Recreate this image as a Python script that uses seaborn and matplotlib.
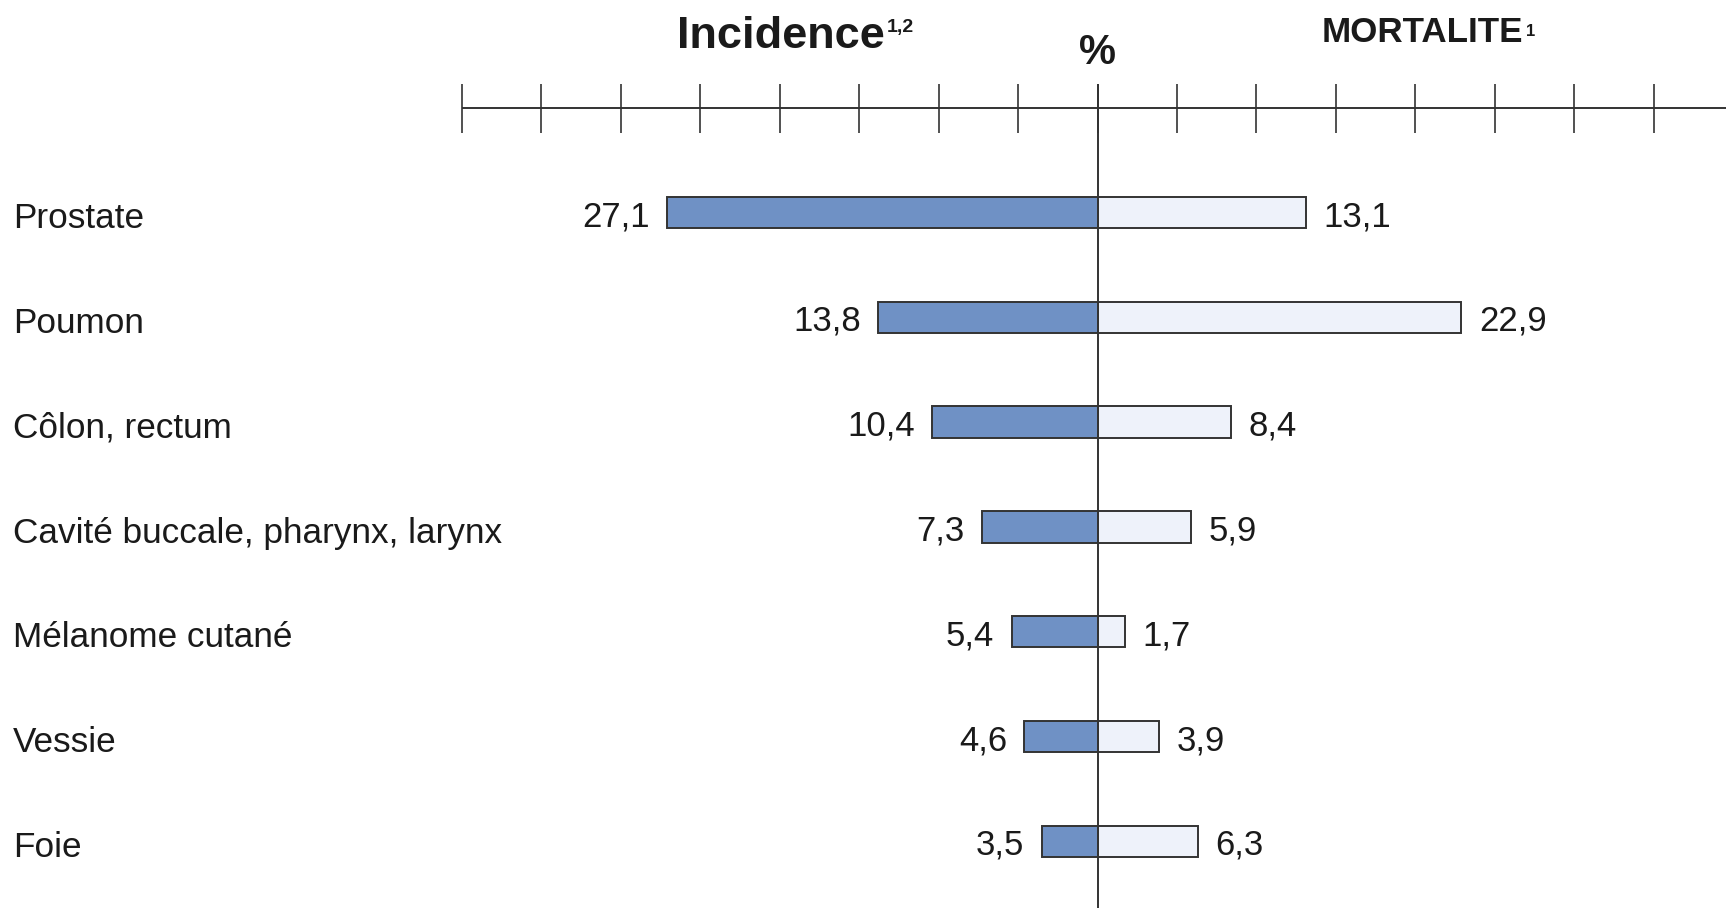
import numpy as np
import pandas as pd
import matplotlib
matplotlib.use("Agg")
import matplotlib.pyplot as plt
import matplotlib.transforms as mtransforms
import seaborn as sns

# Cancer sites, incidence share and mortality share (%)
sites = ["Prostate", "Poumon", "Côlon, rectum", "Cavité buccale, pharynx, larynx",
         "Mélanome cutané", "Vessie", "Foie"]
incidence = [27.1, 13.8, 10.4, 7.3, 5.4, 4.6, 3.5]
mortalite = [13.1, 22.9, 8.4, 5.9, 1.7, 3.9, 6.3]
scale_ticks = list(range(-40, 40, 5))

sns.set_theme(style="white")
plt.rcParams["font.family"] = ["Liberation Sans", "DejaVu Sans"]

W, H, DPI = 1726, 908, 100
fig = plt.figure(figsize=(W / DPI, H / DPI), dpi=DPI)
ax = fig.add_axes([0, 0, 1, 1])

df = pd.DataFrame({"site": sites,
                   "inc": [-v for v in incidence],
                   "mort": mortalite})

edge = "#333333"
sns.barplot(data=df, x="inc", y="site", orient="h", color="#6F91C5",
            saturation=1, width=0.3, edgecolor=edge, linewidth=1.4, ax=ax)
sns.barplot(data=df, x="mort", y="site", orient="h", color="#EEF2FA",
            saturation=1, width=0.3, edgecolor=edge, linewidth=1.4, ax=ax)

# data extent of the canvas
px_per_unit = 15.89
x0_px = 1097.5
ax.set_xlim(-x0_px / px_per_unit, (W - x0_px) / px_per_unit)
row_px, first_px = 104.8, 212.5
ax.set_ylim((H - first_px) / row_px, -first_px / row_px)

for s in ax.spines.values():
    s.set_visible(False)
ax.set_xticks([])
ax.set_yticks([])
ax.set_xlabel("")
ax.set_ylabel("")

# top scale with tick marks every 5 %
axis_y = -1.0
ax.plot([scale_ticks[0], ax.get_xlim()[1]], [axis_y, axis_y], color=edge, lw=1.4,
        solid_capstyle="butt", zorder=3)
ax.vlines(scale_ticks, axis_y - 0.226, axis_y + 0.24, color=edge, lw=1.2, zorder=3)
# central divider
ax.vlines([0], axis_y - 0.226, ax.get_ylim()[0], color=edge, lw=1.4, zorder=4)

fs_val = 25
fs_cat = 25.3
fmt = lambda v: f"{v:.1f}".replace(".", ",")
gap = 17.5 / px_per_unit
for i, (a, b) in enumerate(zip(incidence, mortalite)):
    ax.text(-a - gap, i + 0.04, fmt(a), ha="right", va="center", fontsize=fs_val, color="#1a1a1a")
    ax.text(b + gap, i + 0.04, fmt(b), ha="left", va="center", fontsize=fs_val, color="#1a1a1a")

trans = mtransforms.blended_transform_factory(fig.transFigure, ax.transData)
for i, name in enumerate(sites):
    ax.text(13 / W, i + 0.06, name, transform=trans, ha="left", va="center",
            fontsize=fs_cat, color="#1a1a1a")

# headings
def fx(px):
    return px / W

def fy(px):
    return 1 - px / H

renderer = fig.canvas.get_renderer()
t1 = fig.text(fx(677), fy(48), "Incidence", ha="left", va="baseline",
              fontsize=32.5, fontweight="bold", color="#1a1a1a")
bb = t1.get_window_extent(renderer)
fig.text(bb.x1 / W + 2 / W, fy(32), "1,2", ha="left", va="baseline",
         fontsize=14, fontweight="bold", color="#1a1a1a")

t2 = fig.text(fx(1322), fy(42), "MORTALITE", ha="left", va="baseline",
              fontsize=25.2, fontweight="bold", color="#1a1a1a")
bb = t2.get_window_extent(renderer)
fig.text(bb.x1 / W + 2 / W, fy(36), "1", ha="left", va="baseline",
         fontsize=12, fontweight="bold", color="#1a1a1a")

fig.text(fx(1097.5), fy(64), "%", ha="center", va="baseline",
         fontsize=30, fontweight="bold", color="#1a1a1a")

fig.savefig("out.png", dpi=DPI)
